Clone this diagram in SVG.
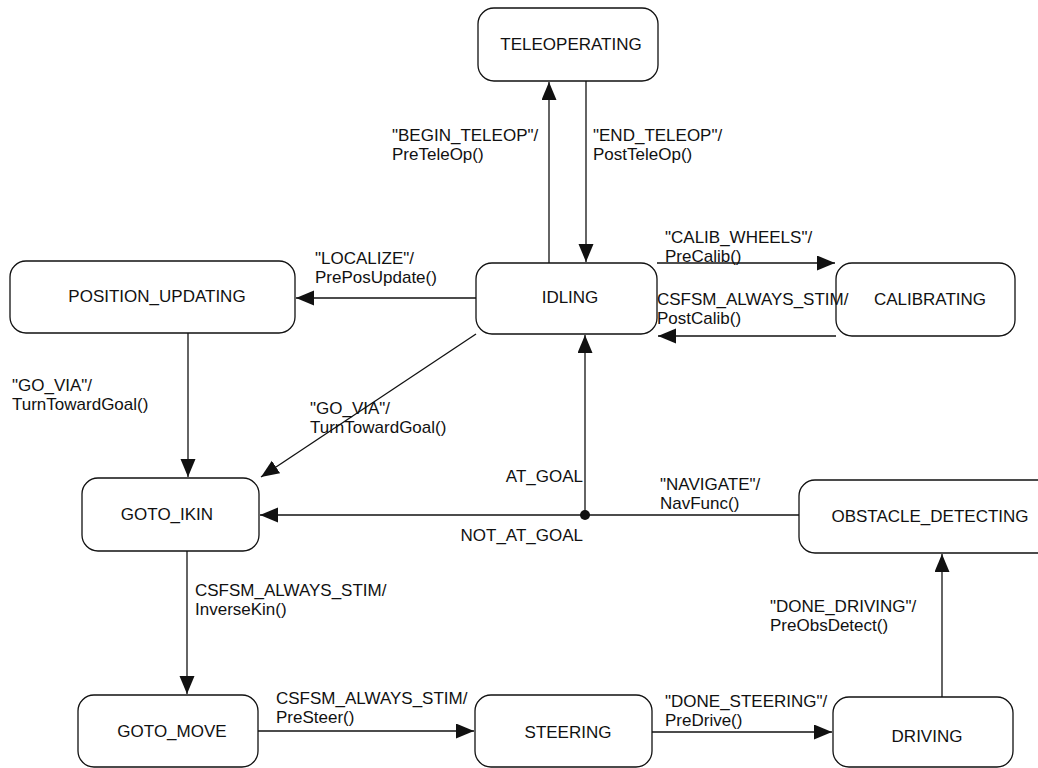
<svg xmlns="http://www.w3.org/2000/svg" width="1038" height="768" viewBox="0 0 1038 768">
<defs>
<style>
.box{fill:#fff;stroke:#111;stroke-width:1.3}
.edge{fill:none;stroke:#111;stroke-width:1.3}
text{font-family:"Liberation Sans",Arial,sans-serif;font-size:17px;fill:#111}
.nl{text-anchor:middle}
.end{text-anchor:end}
</style>
<marker id="arr" markerUnits="userSpaceOnUse" markerWidth="19" markerHeight="16" refX="18" refY="7.5" orient="auto">
<path d="M0,0 L18,7.5 L0,15 z" fill="#111"/>
</marker>
</defs>
<rect width="1038" height="768" fill="#fff"/>
<g id="connectors">
<line class="edge" x1="549" y1="263" x2="549" y2="82" marker-end="url(#arr)"/>
<line class="edge" x1="586" y1="81" x2="586" y2="262" marker-end="url(#arr)"/>
<line class="edge" x1="476" y1="298" x2="296" y2="298" marker-end="url(#arr)"/>
<line class="edge" x1="657" y1="263" x2="835" y2="263" marker-end="url(#arr)"/>
<line class="edge" x1="836" y1="336" x2="658" y2="336" marker-end="url(#arr)"/>
<line class="edge" x1="188" y1="333" x2="188" y2="477" marker-end="url(#arr)"/>
<line class="edge" x1="476" y1="334" x2="261" y2="477" marker-end="url(#arr)"/>
<line class="edge" x1="585" y1="515" x2="585" y2="335" marker-end="url(#arr)"/>
<line class="edge" x1="585" y1="515" x2="260" y2="515" marker-end="url(#arr)"/>
<line class="edge" x1="799" y1="515" x2="585" y2="515"/>
<circle cx="585" cy="515" r="5" fill="#111"/>
<line class="edge" x1="187" y1="551" x2="187" y2="694" marker-end="url(#arr)"/>
<line class="edge" x1="258" y1="731" x2="474" y2="731" marker-end="url(#arr)"/>
<line class="edge" x1="652" y1="732" x2="832" y2="732" marker-end="url(#arr)"/>
<line class="edge" x1="942" y1="697" x2="942" y2="554" marker-end="url(#arr)"/>
</g>
<g id="TELEOPERATING"><rect class="box" x="478" y="8" width="180" height="73" rx="16"/><text class="nl" x="571" y="50">TELEOPERATING</text></g>
<g id="POSITION_UPDATING"><rect class="box" x="10" y="261" width="285" height="72" rx="16"/><text class="nl" x="157" y="302">POSITION_UPDATING</text></g>
<g id="IDLING"><rect class="box" x="476" y="263" width="181" height="71" rx="16"/><text class="nl" x="570" y="303">IDLING</text></g>
<g id="CALIBRATING"><rect class="box" x="836" y="263" width="179" height="73" rx="16"/><text class="nl" x="930" y="305">CALIBRATING</text></g>
<g id="GOTO_IKIN"><rect class="box" x="82" y="478" width="177" height="73" rx="16"/><text class="nl" x="167" y="520">GOTO_IKIN</text></g>
<g id="OBSTACLE_DETECTING"><rect class="box" x="799" y="480" width="262" height="73" rx="16"/><text class="nl" x="930" y="522">OBSTACLE_DETECTING</text></g>
<g id="GOTO_MOVE"><rect class="box" x="78" y="695" width="180" height="72" rx="16"/><text class="nl" x="172" y="737">GOTO_MOVE</text></g>
<g id="STEERING"><rect class="box" x="475" y="695" width="177" height="72" rx="16"/><text class="nl" x="568" y="738">STEERING</text></g>
<g id="DRIVING"><rect class="box" x="833" y="697" width="180" height="70" rx="16"/><text class="nl" x="927" y="742">DRIVING</text></g>
<g id="edge-labels">
<text x="392" y="141">"BEGIN_TELEOP"/</text>
<text x="392" y="160">PreTeleOp()</text>
<text x="593" y="141">"END_TELEOP"/</text>
<text x="593" y="160">PostTeleOp()</text>
<text x="315" y="264">"LOCALIZE"/</text>
<text x="315" y="283">PrePosUpdate()</text>
<text x="665" y="243">"CALIB_WHEELS"/</text>
<text x="665" y="262">PreCalib()</text>
<text x="657" y="305">CSFSM_ALWAYS_STIM/</text>
<text x="657" y="324">PostCalib()</text>
<text x="12" y="391">"GO_VIA"/</text>
<text x="12" y="410">TurnTowardGoal()</text>
<text x="310" y="414">"GO_VIA"/</text>
<text x="310" y="433">TurnTowardGoal()</text>
<text class="end" x="583" y="482">AT_GOAL</text>
<text class="end" x="583" y="541">NOT_AT_GOAL</text>
<text x="660" y="490">"NAVIGATE"/</text>
<text x="660" y="509">NavFunc()</text>
<text x="195" y="596">CSFSM_ALWAYS_STIM/</text>
<text x="195" y="615">InverseKin()</text>
<text x="276" y="704">CSFSM_ALWAYS_STIM/</text>
<text x="276" y="723">PreSteer()</text>
<text x="665" y="707">"DONE_STEERING"/</text>
<text x="665" y="726">PreDrive()</text>
<text x="770" y="612">"DONE_DRIVING"/</text>
<text x="770" y="631">PreObsDetect()</text>
</g>
</svg>
